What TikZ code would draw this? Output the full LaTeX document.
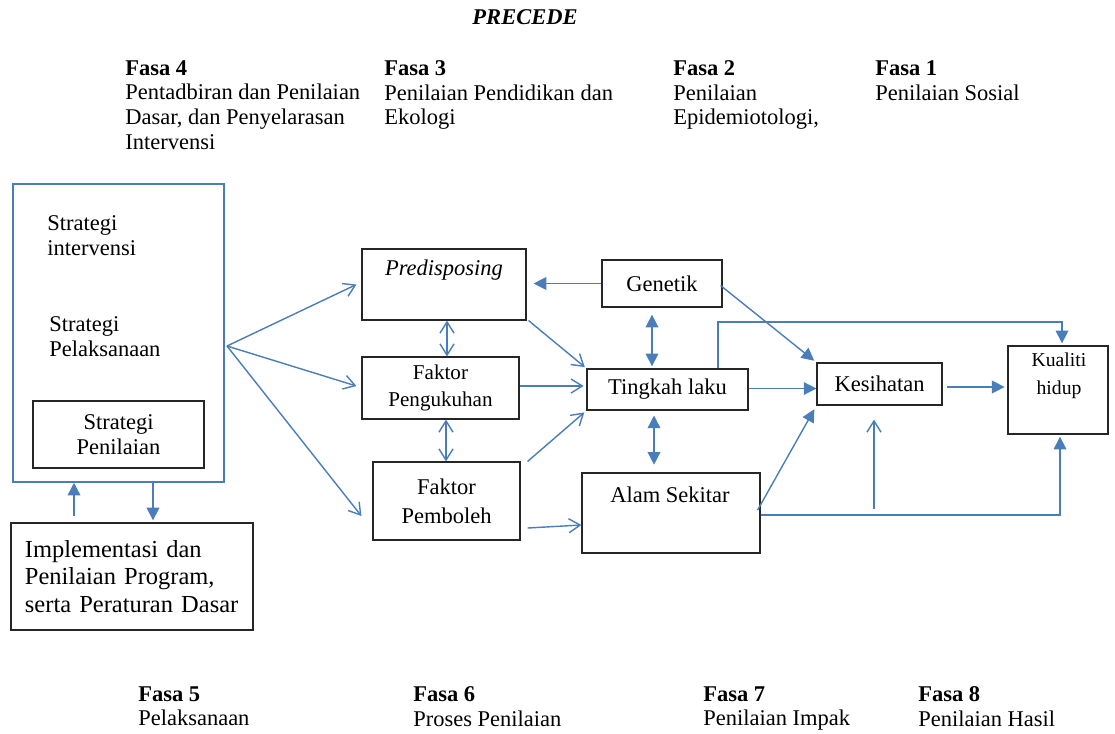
\documentclass[tikz,border=0pt]{standalone}
\usepackage{fontspec}
\setmainfont{Liberation Serif}
\usetikzlibrary{arrows.meta,calc}
\definecolor{lnblue}{RGB}{74,126,187}

\begin{document}
\begin{tikzpicture}[x=0.025cm,y=-0.025cm,
	box/.style={draw=black!85,line width=0.8pt,inner sep=0pt,align=center,font=\fontsize{16}{17.7}\selectfont},
	txt/.style={inner sep=0pt,align=left,font=\fontsize{16}{17.7}\selectfont},
	lnk/.style={draw=lnblue,line width=1pt},
	barb/.style={lnk,-{Straight Barb[length=8pt,width=10pt]}},
	dblbarb/.style={lnk,{Straight Barb[length=8pt,width=10pt]}-{Straight Barb[length=8pt,width=10pt]}},
	tri/.style={lnk,-{Triangle[length=9pt,width=9pt]}},
	dbltri/.style={lnk,{Triangle[length=9pt,width=9pt]}-{Triangle[length=9pt,width=9pt]}}]
	\useasboundingbox (0,0) rectangle (1115,733);
	\node[font=\fontsize{16}{18}\selectfont\bfseries\itshape] (title) at (525,17) {PRECEDE};
	\node[txt,anchor=north west] (fasa4) at (125,60) {\textbf{Fasa 4}\\Pentadbiran dan Penilaian\\Dasar, dan Penyelarasan\\Intervensi};
	\node[txt,anchor=north west] (fasa3) at (384,60) {\textbf{Fasa 3}\\Penilaian Pendidikan dan\\Ekologi};
	\node[txt,anchor=north west] (fasa2) at (673,60) {\textbf{Fasa 2}\\Penilaian\\Epidemiotologi,};
	\node[txt,anchor=north west] (fasa1) at (875,60) {\textbf{Fasa 1}\\Penilaian Sosial};
	\node[txt,anchor=north west] (fasa5) at (138,686) {\textbf{Fasa 5}\\Pelaksanaan};
	\node[txt,anchor=north west] (fasa6) at (413,686) {\textbf{Fasa 6}\\Proses Penilaian};
	\node[txt,anchor=north west] (fasa7) at (703,686) {\textbf{Fasa 7}\\Penilaian Impak};
	\node[txt,anchor=north west] (fasa8) at (918,686) {\textbf{Fasa 8}\\Penilaian Hasil};

	\node[box,draw=lnblue,line width=1pt,minimum width=5.275cm,minimum height=7.45cm] (strat) at (118.5,333) {};
	\node[txt,anchor=north west] (intv) at (47,215) {Strategi\\intervensi};
	\node[txt,anchor=north west] (plk) at (49,316) {Strategi\\Pelaksanaan};
	\node[box,minimum width=4.275cm,minimum height=1.675cm] (penil) at (118.5,434.5) {Strategi\\Penilaian};
	\node[box,align=left,text width=5.35cm,inner xsep=0.35cm,minimum height=2.675cm,font=\fontsize{17.4}{19.8}\selectfont] (impl) at (132,576.5) {Implementasi dan\\Penilaian Program,\\serta Peraturan Dasar};

	\node[box,minimum width=4.1cm,minimum height=1.775cm] (pred) at (444,284.5) {};
	\node[txt] (predtxt) at (444,270) {\textit{Predisposing}};
	\node[box,minimum width=3.925cm,minimum height=1.55cm,font=\fontsize{15}{19}\selectfont] (peng) at (440.5,388) {Faktor\\Pengukuhan};
	\node[box,minimum width=3.675cm,minimum height=1.95cm,font=\fontsize{16}{20.6}\selectfont] (pemb) at (446.5,501) {Faktor\\Pemboleh};
	\node[box,minimum width=3cm,minimum height=1.175cm] (gen) at (662,283.5) {Genetik};
	\node[box,minimum width=4.025cm,minimum height=1.025cm] (ting) at (667.5,389.5) {Tingkah laku};
	\node[box,minimum width=4.45cm,minimum height=2cm] (alam) at (671,513) {};
	\node[txt] (alamtxt) at (670,495) {Alam Sekitar};
	\node[box,minimum width=3.125cm,minimum height=1.05cm] (kes) at (879.5,384) {Kesihatan};
	\node[box,minimum width=2.5cm,minimum height=2.2cm] (kual) at (1058,390) {};
	\node[txt,align=center,font=\fontsize{14}{19.8}\selectfont] (kualtxt) at (1059,376) {Kualiti\\hidup};

	\coordinate (fan) at (227,346);
	\draw[barb] (fan) -- ($(pred.west)+(-5,0)$);
	\draw[barb] (fan) -- ($(peng.west)+(-5,-2)$);
	\draw[barb] (fan) -- ($(pemb.west)+(-11,15)$);
	\draw[dblbarb] (pred.south -| 447,0) -- (peng.north -| 447,0);
	\draw[dblbarb] (peng.south -| 446,0) -- (pemb.north -| 446,0);
	\draw[tri,shorten >=5pt] (gen.west) -- (gen.west -| pred.east);
	\draw[dbltri,shorten <=5pt,shorten >=1.5pt] (gen.south -| 652,0) -- (ting.north -| 652,0);
	\draw[dbltri,shorten <=3.5pt,shorten >=5.5pt] (ting.south -| 654,0) -- (alam.north -| 654,0);
	\draw[barb,shorten >=1.5pt] ($(pred.south east)+(2,0)$) -- (ting.north west);
	\draw[barb,shorten >=2pt] ($(peng.east)+(0,-2)$) -- ($(peng.east -| ting.west)+(0,-2)$);
	\draw[barb,shorten >=2pt] ($(pemb.north east)+(7,0)$) -- (ting.south west);
	\draw[barb] ($(pemb.east)+(7,27)$) -- ($(alam.west)+(0,12)$);
	\draw[tri,shorten >=2pt] ($(gen.east)+(-2,2)$) -- (kes.north west);
	\draw[tri] ($(ting.east)+(0,-1)$) -- ($(ting.east -| kes.west)+(0,-1)$);
	\draw[tri,shorten >=2pt] ($(kes.east)+(4,3)$) -- ($(kes.east -| kual.west)+(0,3)$);
	\draw[tri,shorten >=1.5pt] (ting.north -| 718,0) |- (1062,322) -- (kual.north -| 1062,0);
	\draw[tri,shorten >=3pt] ($(alam.east)+(-3,-3)$) -- (kes.south west);
	\draw[tri,shorten >=1.5pt] ($(alam.east)+(0,2)$) -| ($(kual.south)+(2,0)$);
	\coordinate (feed) at (874,509);
	\draw[barb] (feed) -- ($(kes.south -| 874,0)+(0,14)$);
	\draw[tri] ($(impl.north -| 74,0)+(0,-6)$) -- (strat.south -| 74,0);
	\draw[tri,shorten >=1.5pt] (strat.south -| 153,0) -- (impl.north -| 153,0);
\end{tikzpicture}
\end{document}
